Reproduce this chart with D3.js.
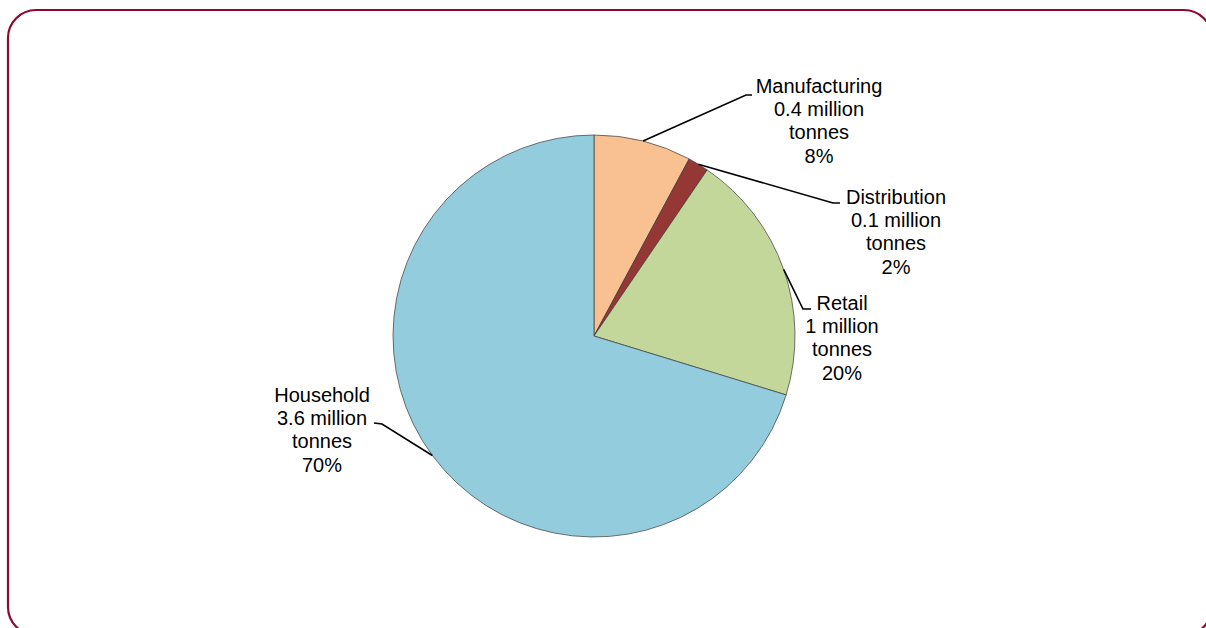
<!DOCTYPE html>
<html>
<head>
<meta charset="utf-8">
<script src="https://cdn.jsdelivr.net/npm/d3@7"></script>
<style>
  html, body { margin: 0; padding: 0; background: #fff; }
  svg { display: block; }
  text { font-family: "Liberation Sans", Arial, sans-serif; font-size: 20px; fill: #000; }
</style>
</head>
<body>
<svg id="chart" width="1206" height="628"></svg>
<script>
// ---- data ----
const categories = ["Manufacturing", "Distribution", "Retail", "Household"];
const values = [0.40, 0.085, 1.03, 3.58];            // million tonnes
const valueLabels = ["0.4 million", "0.1 million", "1 million", "3.6 million"];
const unitLabels = ["tonnes", "tonnes", "tonnes", "tonnes"];
const percentLabels = ["8%", "2%", "20%", "70%"];
const colors = ["#F9C091", "#953735", "#C4D79B", "#93CDDD"];

// ---- layout (label elbows / text anchors, relative to pie centre) ----
const labelLayout = [
  { elbow: [152, -241], end: [158, -241], text: [225, -243] },
  { elbow: [239, -133], end: [246, -133], text: [302, -132] },
  { elbow: [209, -27],  end: [217, -27],  text: [248, -26] },
  { elbow: [-212, 88],  end: [-220, 87],  text: [-272, 66] }
];

const cx = 594, cy = 336, R = 201;
const svg = d3.select("#chart");

// frame
svg.append("rect")
  .attr("x", 8).attr("y", 10)
  .attr("width", 1204).attr("height", 625)
  .attr("rx", 28).attr("ry", 28)
  .attr("fill", "none")
  .attr("stroke", "#8C0A2E")
  .attr("stroke-width", 2.2);

const g = svg.append("g").attr("transform", `translate(${cx},${cy})`);

const pie = d3.pie().sort(null).value(d => d);
const arcs = pie(values);
const arc = d3.arc().innerRadius(0).outerRadius(R);

g.selectAll("path.slice")
  .data(arcs)
  .join("path")
  .attr("class", "slice")
  .attr("d", arc)
  .attr("fill", (d, i) => colors[i])
  .attr("stroke", "#3a3a3a")
  .attr("stroke-width", 0.7)
  .attr("stroke-linejoin", "round");

// leader lines start on the outer arc at slice mid-angle
arcs.forEach((d, i) => {
  const mid = (d.startAngle + d.endAngle) / 2;
  const p0 = [Math.sin(mid) * R, -Math.cos(mid) * R];
  const L = labelLayout[i];
  g.append("polyline")
    .attr("points", [p0, L.elbow, L.end].map(p => p.join(",")).join(" "))
    .attr("fill", "none")
    .attr("stroke", "#000")
    .attr("stroke-width", 1.6);

  const t = g.append("text")
    .attr("text-anchor", "middle")
    .attr("transform", `translate(${L.text[0]},${L.text[1]})`);
  const lines = [categories[i], valueLabels[i], unitLabels[i], percentLabels[i]];
  lines.forEach((s, k) => {
    t.append("tspan").attr("x", 0).attr("y", k * 23.2).text(s);
  });
});
</script>
</body>
</html>
